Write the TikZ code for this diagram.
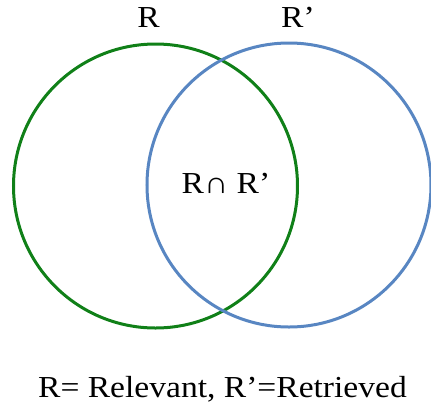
\documentclass[tikz,border=0pt]{standalone}
\usepackage{fontspec}
\setmainfont{Liberation Serif}[FakeStretch=1.1]
\definecolor{vgreen}{RGB}{16,128,24}
\definecolor{vblue}{RGB}{88,134,194}
\begin{document}
\begin{tikzpicture}[x=1bp,y=1bp,
  setcircle/.style={circle,draw,line width=3bp,minimum size=284bp,inner sep=0pt},
  biglabel/.style={anchor=base,inner sep=0pt,font=\fontsize{30.5bp}{34bp}\selectfont}]
\useasboundingbox (0,0) rectangle (431,-406);
\node[setcircle,draw=vgreen] (relevant) at (155.5,-186) {};
\node[setcircle,draw=vblue] (retrieved) at (289,-185) {};
\node[biglabel] (rlabel) at (148.5,-27) {R};
\node[biglabel] (rplabel) at (298,-27) {R’};
\node[biglabel] (inter) at (226,-193) {R∩ R’};
\node[biglabel] (legend) at (222.5,-397) {R= Relevant, R’=Retrieved};
\end{tikzpicture}
\end{document}
